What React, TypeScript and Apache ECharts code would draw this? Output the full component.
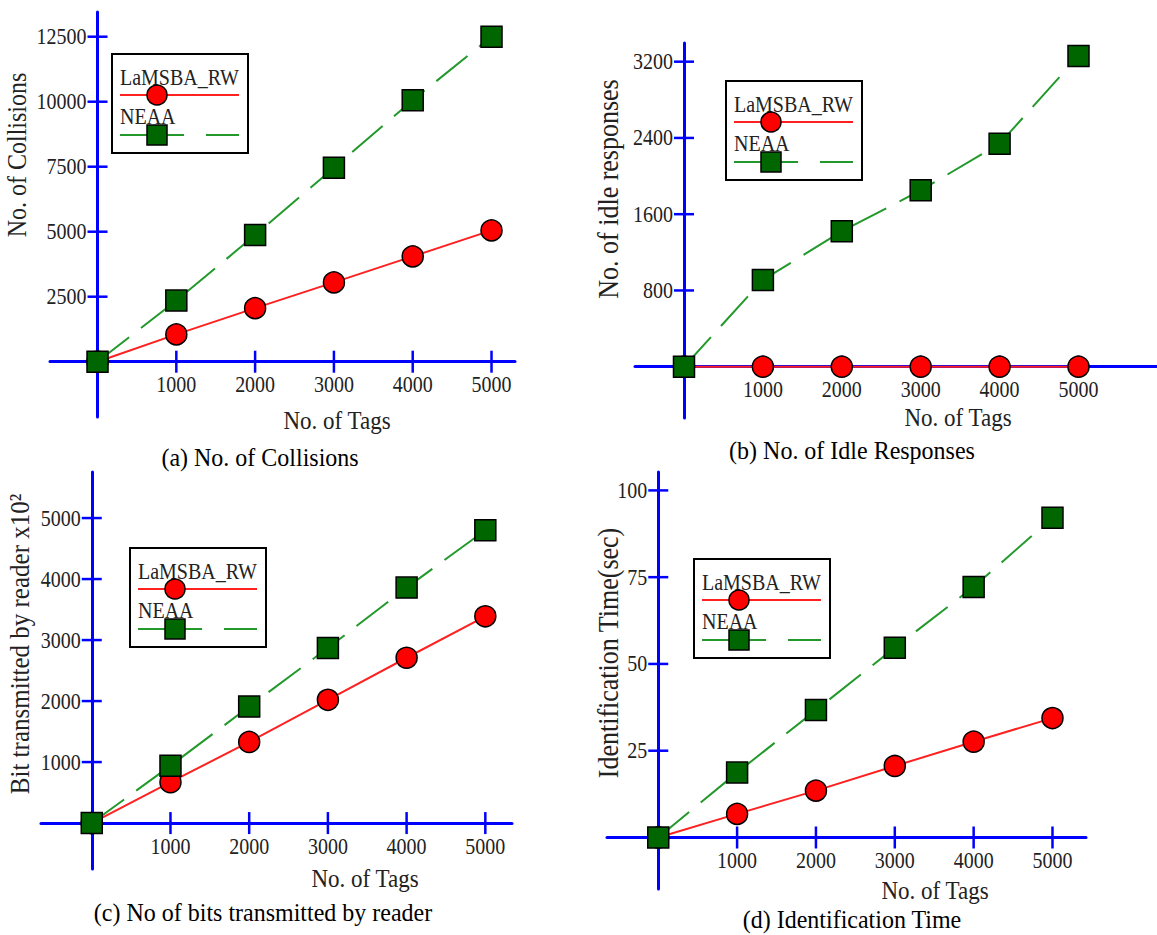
import { useEffect, useRef } from "react";
import * as echarts from "echarts";

const tags = [0, 1000, 2000, 3000, 4000, 5000];
const tagTicks = [1000, 2000, 3000, 4000, 5000];

const collisionsLaMSBA = [0, 1050, 2060, 3050, 4050, 5050];
const collisionsNEAA = [0, 2350, 4870, 7460, 10060, 12500];
const collisionTicks = [2500, 5000, 7500, 10000, 12500];

const idleLaMSBA = [0, 0, 0, 0, 0, 0];
const idleNEAA = [0, 910, 1420, 1850, 2340, 3260];
const idleTicks = [800, 1600, 2400, 3200];

const bitsLaMSBA = [0, 670, 1330, 2020, 2710, 3390];
const bitsNEAA = [0, 940, 1910, 2870, 3860, 4800];
const bitsTicks = [1000, 2000, 3000, 4000, 5000];

const timeLaMSBA = [0, 6.8, 13.5, 20.6, 27.6, 34.4];
const timeNEAA = [0, 18.7, 36.7, 54.7, 72.2, 92.1];
const timeTicks = [25, 50, 75, 100];

const seriesNames = ["LaMSBA_RW", "NEAA"];
const xTitle = "No. of Tags";

const FONT = '"Liberation Serif", "Times New Roman", serif';
const TEXT = "#222";
const BLUE = "#0000ff";
const SY = 1.18;

const panels = [
  {
    grid: { left: 50, top: 12, width: 465, height: 405 },
    x: [-603, 5298], y: [-2127, 13450],
    yTicks: collisionTicks, s1: collisionsLaMSBA, s2: collisionsNEAA,
    yTitle: "No. of Collisions", yTitleSize: 24, yTitlePos: [17, 155], xTitlePos: [337, 420],
    caption: "(a) No. of Collisions", capPos: [260, 457], legend: [112, 54],
  },
  {
    grid: { left: 635, top: 43, width: 522, height: 375 },
    x: [-621, 5995], y: [-538, 3396],
    yTicks: idleTicks, s1: idleLaMSBA, s2: idleNEAA,
    yTitle: "No. of idle responses", yTitleSize: 26, yTitlePos: [608, 189], xTitlePos: [958, 417],
    caption: "(b) No. of Idle Responses", capPos: [852, 450], legend: [726, 81],
  },
  {
    grid: { left: 41, top: 472, width: 471, height: 397 },
    x: [-645, 5339], y: [-753, 5755],
    yTicks: bitsTicks, s1: bitsLaMSBA, s2: bitsNEAA,
    yTitle: "Bit transmitted by reader x10\u00b2", yTitleSize: 25, yTitlePos: [20, 644], xTitlePos: [365, 878],
    caption: "(c) No of bits transmitted by reader", capPos: [263, 912], legend: [130, 548],
  },
  {
    grid: { left: 607, top: 472, width: 479, height: 417 },
    x: [-650, 5425], y: [-14.84, 105.3],
    yTicks: timeTicks, s1: timeLaMSBA, s2: timeNEAA,
    yTitle: "Identification Time(sec)", yTitleSize: 26, yTitlePos: [608, 653], xTitlePos: [935, 890],
    caption: "(d) Identification Time", capPos: [852, 919], legend: [694, 559],
  },
];

function textEl(text: string, x: number, y: number, size: number, opts: any = {}) {
  const rot = opts.rotation || 0;
  return {
    type: "text",
    x,
    y,
    rotation: rot,
    scaleY: opts.scaleY || SY * 0.95,
    z: 20,
    style: {
      text,
      fontSize: size,
      fontFamily: FONT,
      fill: opts.fill || TEXT,
      align: opts.align || "center",
      textAlign: opts.align || "center",
      verticalAlign: "middle",
      textVerticalAlign: "middle",
    },
  };
}

function legendEls(x0: number, y0: number) {
  const els: any[] = [];
  els.push({
    type: "rect", z: 20,
    shape: { x: x0, y: y0, width: 136, height: 99 },
    style: { fill: "#fff", stroke: "#000", lineWidth: 2 },
  });
  els.push(textEl(seriesNames[0], x0 + 8, y0 + 24, 20, { align: "left" }));
  els.push({
    type: "line", z: 21,
    shape: { x1: x0 + 8, y1: y0 + 41, x2: x0 + 127, y2: y0 + 41 },
    style: { stroke: "#ff2020", lineWidth: 2 },
  });
  els.push({
    type: "circle", z: 22,
    shape: { cx: x0 + 45, cy: y0 + 41, r: 10 },
    style: { fill: "#ff0000", stroke: "#000", lineWidth: 1.5 },
  });
  els.push(textEl(seriesNames[1], x0 + 8, y0 + 63, 20, { align: "left" }));
  els.push({
    type: "line", z: 21,
    shape: { x1: x0 + 8, y1: y0 + 81, x2: x0 + 127, y2: y0 + 81 },
    style: { stroke: "#22992a", lineWidth: 2, lineDash: [64, 22] },
  });
  els.push({
    type: "rect", z: 22,
    shape: { x: x0 + 35, y: y0 + 71, width: 20, height: 20 },
    style: { fill: "#006600", stroke: "#000", lineWidth: 1.5 },
  });
  return els;
}

function tickLabel(text: string, x: number, y: number, align: string) {
  return {
    type: "text",
    x,
    y,
    scaleY: SY,
    style: {
      text,
      fontSize: 20,
      fontFamily: FONT,
      fill: TEXT,
      align,
      textAlign: align,
      verticalAlign: "middle",
      textVerticalAlign: "middle",
    },
  };
}

export default function App() {
  const ref = useRef<HTMLDivElement>(null);
  useEffect(() => {
    if (!ref.current) return;
    const chart = echarts.init(ref.current, undefined, { renderer: "svg" });
    const grids: any[] = [];
    const xAxes: any[] = [];
    const yAxes: any[] = [];
    const series: any[] = [];
    const graphics: any[] = [];
    panels.forEach((p, i) => {
      grids.push({ ...p.grid, containLabel: false, outerBoundsMode: "none" });
      xAxes.push({
        gridIndex: i, type: "value", min: p.x[0], max: p.x[1],
        axisLine: { show: true, onZero: true, lineStyle: { color: BLUE, width: 3 } },
        axisTick: { show: false },
        splitLine: { show: false },
        axisLabel: { show: false },
      });
      yAxes.push({
        gridIndex: i, type: "value", min: p.y[0], max: p.y[1],
        axisLine: { show: true, onZero: true, lineStyle: { color: BLUE, width: 3 } },
        axisTick: { show: false },
        splitLine: { show: false },
        axisLabel: { show: false },
      });
      series.push({
        type: "custom", xAxisIndex: i, yAxisIndex: i, z: 1, silent: true,
        data: tagTicks.map((v) => [v, 0]),
        encode: { x: 0, y: 1 },
        renderItem: (_params: any, api: any) => {
          const v = api.value(0);
          const c = api.coord([v, api.value(1)]);
          return {
            type: "group",
            children: [
              {
                type: "line",
                shape: { x1: c[0], y1: c[1] - 11, x2: c[0], y2: c[1] + 11 },
                style: { stroke: BLUE, lineWidth: 2.5 },
              },
              tickLabel(String(v), c[0], c[1] + 23, "center"),
            ],
          };
        },
      });
      series.push({
        type: "custom", xAxisIndex: i, yAxisIndex: i, z: 1, silent: true,
        data: p.yTicks.map((v) => [0, v]),
        encode: { x: 0, y: 1 },
        renderItem: (_params: any, api: any) => {
          const v = api.value(1);
          const c = api.coord([api.value(0), v]);
          return {
            type: "group",
            children: [
              {
                type: "line",
                shape: { x1: c[0] - 10, y1: c[1], x2: c[0] + 10, y2: c[1] },
                style: { stroke: BLUE, lineWidth: 2.5 },
              },
              tickLabel(String(v), c[0] - 11, c[1], "right"),
            ],
          };
        },
      });
      series.push({
        name: seriesNames[0], type: "line", xAxisIndex: i, yAxisIndex: i, z: 3,
        data: tags.map((t, k) => [t, p.s1[k]]),
        symbol: "circle", symbolSize: 21,
        lineStyle: { color: "#ff2020", width: 2 },
        itemStyle: { color: "#ff0000", borderColor: "#000", borderWidth: 1.5 },
      });
      series.push({
        name: seriesNames[1], type: "line", xAxisIndex: i, yAxisIndex: i, z: 3,
        data: tags.map((t, k) => [t, p.s2[k]]),
        symbol: "rect", symbolSize: 21,
        lineStyle: { color: "#22992a", width: 2, type: [40, 15] },
        itemStyle: { color: "#006600", borderColor: "#000", borderWidth: 1.5 },
      });
      graphics.push(textEl(p.yTitle, p.yTitlePos[0], p.yTitlePos[1], p.yTitleSize, { rotation: Math.PI / 2 }));
      graphics.push(textEl(xTitle, p.xTitlePos[0], p.xTitlePos[1], 23));
      graphics.push(textEl(p.caption, p.capPos[0], p.capPos[1], 24, { fill: "#000", scaleY: 1.05 }));
      graphics.push(...legendEls(p.legend[0], p.legend[1]));
    });
    chart.setOption({
      animation: false,
      backgroundColor: "#fff",
      grid: grids,
      xAxis: xAxes,
      yAxis: yAxes,
      series,
      graphic: { elements: graphics },
    });
    return () => chart.dispose();
  }, []);
  return (
    <div
      ref={ref}
      style={{ position: "absolute", left: 0, top: 0, width: 1157, height: 935 }}
    />
  );
}
